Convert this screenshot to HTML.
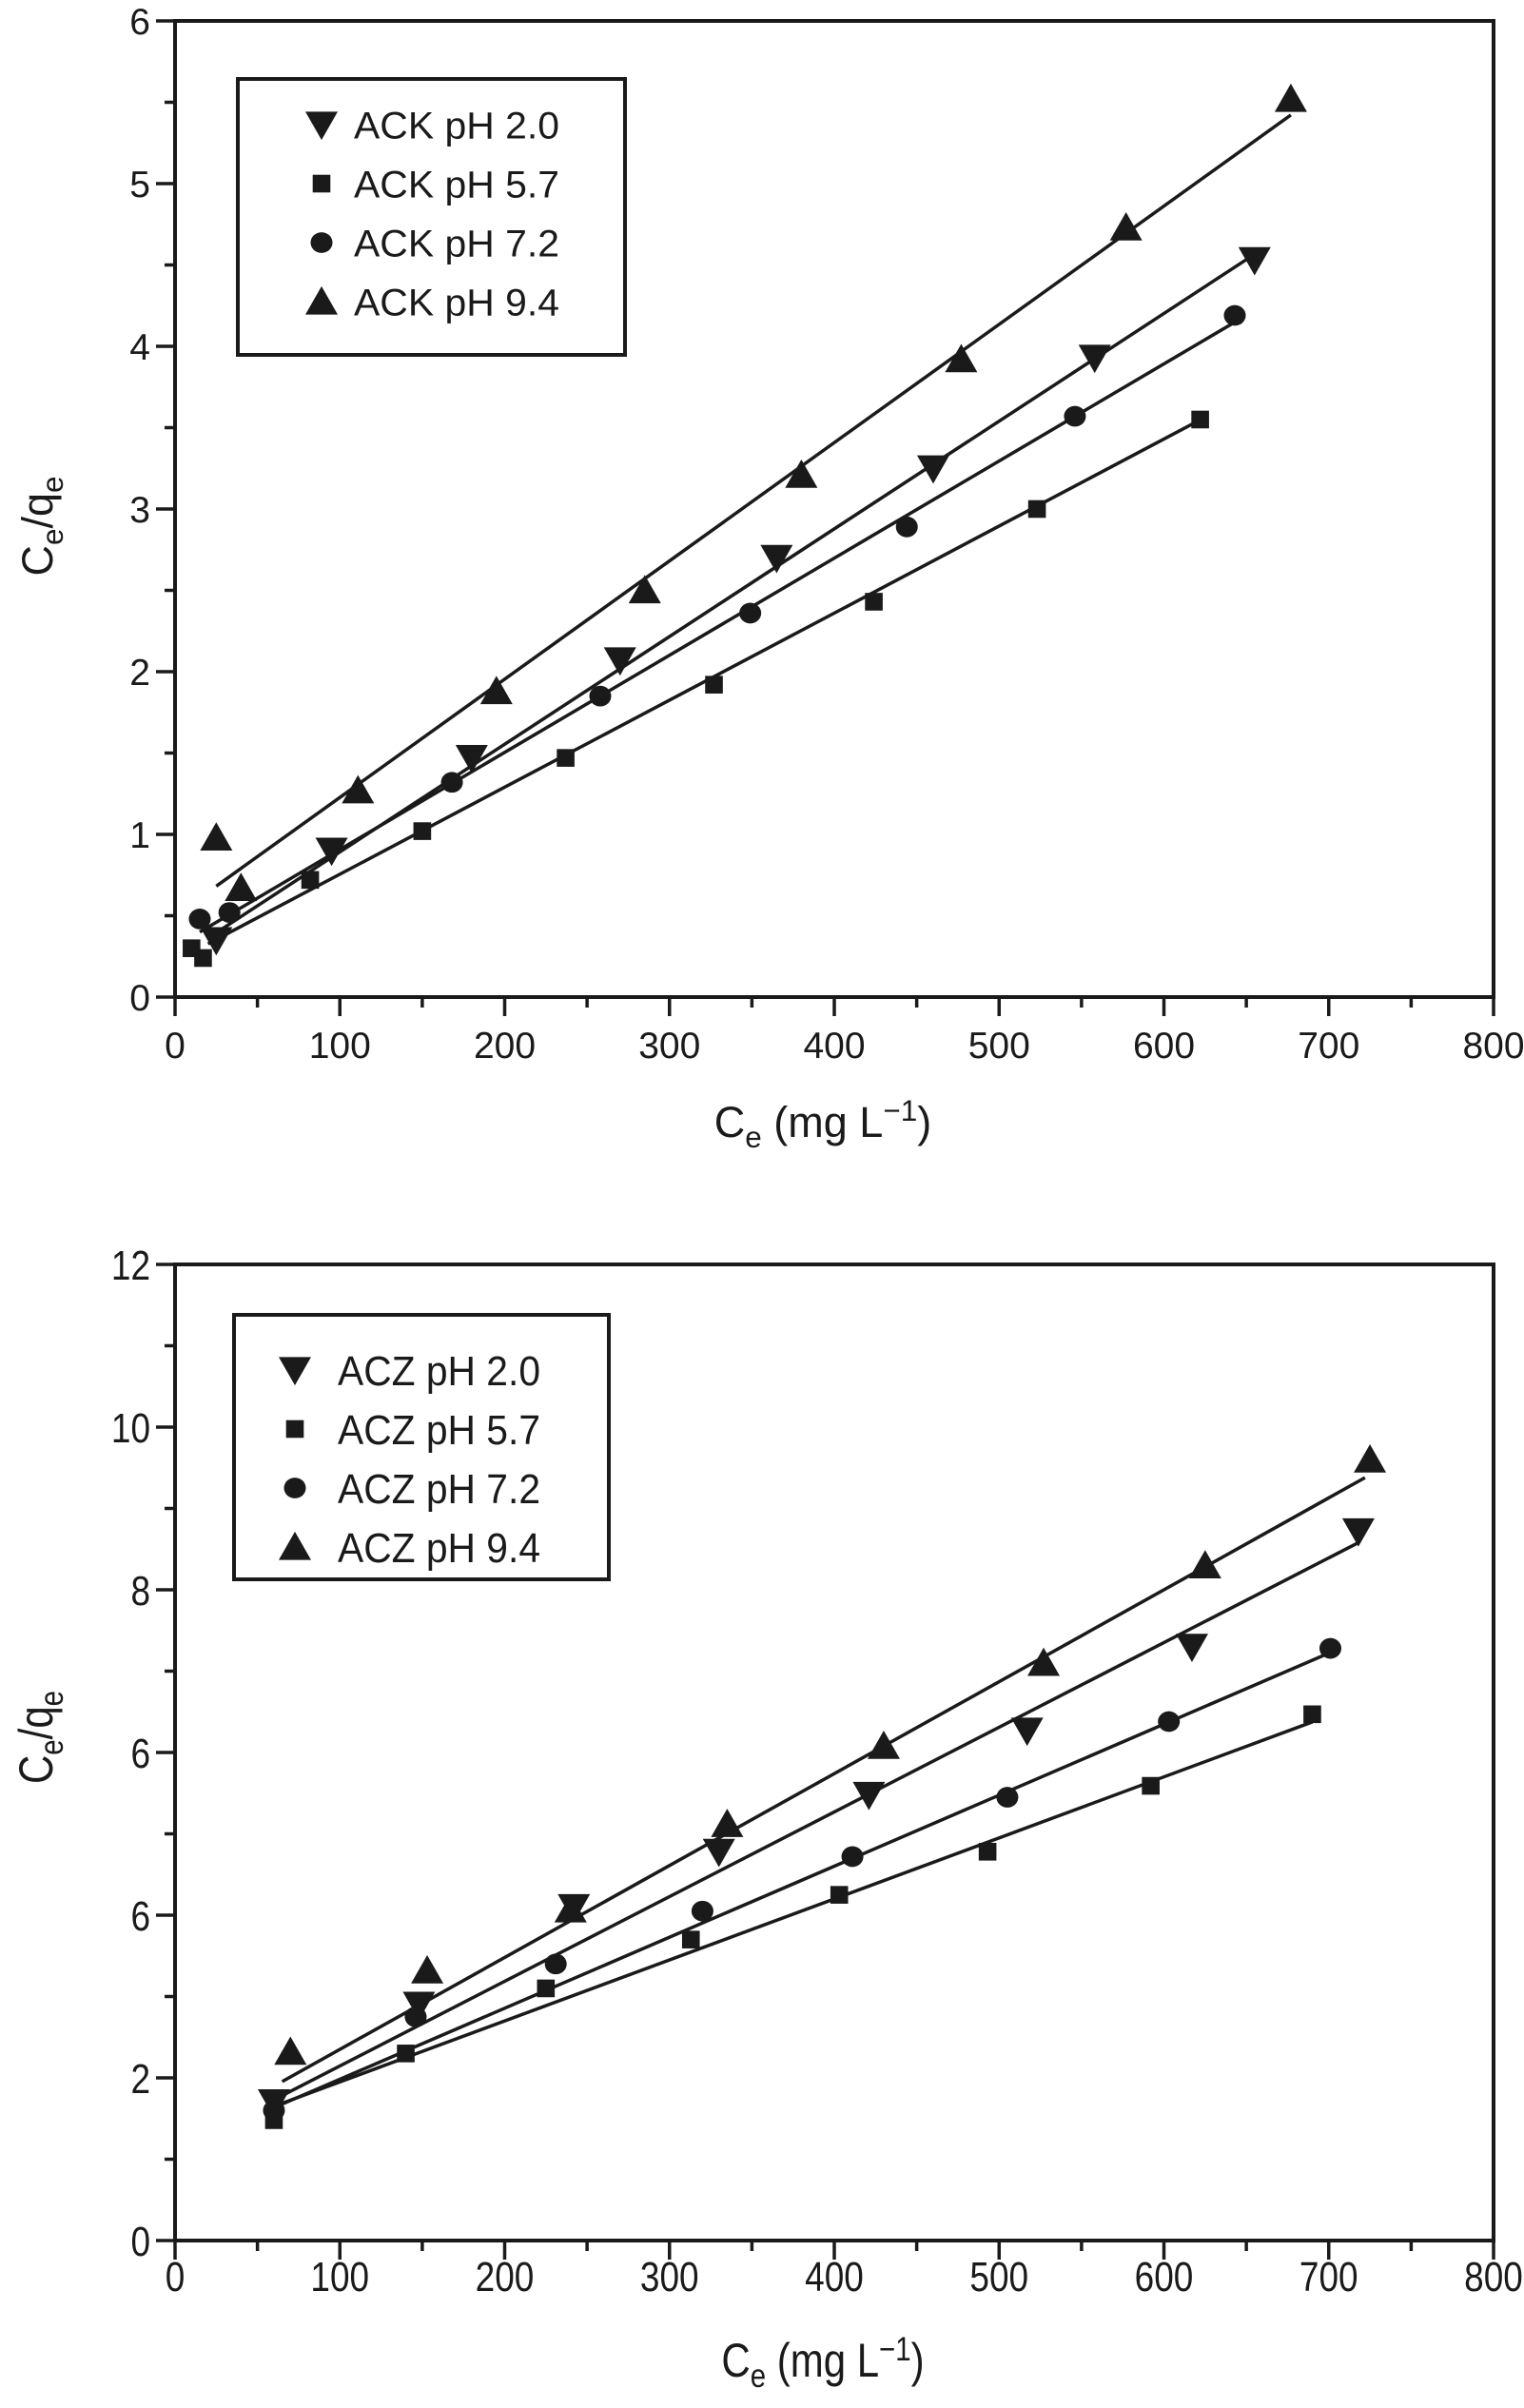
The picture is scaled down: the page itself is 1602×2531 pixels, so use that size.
<!DOCTYPE html>
<html><head><meta charset="utf-8">
<style>html,body{margin:0;padding:0;background:#fff;}svg{display:block;}</style>
</head><body>
<svg id="c" width="1602" height="2531" viewBox="0 0 1602 2531" xmlns="http://www.w3.org/2000/svg" font-family="'Liberation Sans', sans-serif" fill="#1a1a1a"></svg>
<script>
// ---------- data ----------
const xTicks = [0,100,200,300,400,500,600,700,800];
const topYTicks = [0,1,2,3,4,5,6];
const topYLabels = ["0","1","2","3","4","5","6"];
const botYTicks = [0,2,4,6,8,10,12];
const botYLabels = ["0","2","6","6","8","10","12"];

const topLegend = ["ACK pH 2.0","ACK pH 5.7","ACK pH 7.2","ACK pH 9.4"];
const botLegend = ["ACZ pH 2.0","ACZ pH 5.7","ACZ pH 7.2","ACZ pH 9.4"];
const markers = ["down","square","circle","up"];

const ackX20 = [25,95,180,270,365,460,558,655];
const ackY20 = [0.35,0.9,1.47,2.07,2.7,3.25,3.93,4.53];
const ackX57 = [10,17,82,150,237,327,424,523,622];
const ackY57 = [0.3,0.24,0.72,1.02,1.47,1.92,2.43,3.0,3.55];
const ackX72 = [15,33,168,258,349,444,546,643];
const ackY72 = [0.48,0.52,1.32,1.85,2.36,2.89,3.57,4.19];
const ackX94 = [25,40,111,195,285,380,477,577,677];
const ackY94 = [0.98,0.67,1.27,1.88,2.5,3.21,3.92,4.73,5.52];
const ackSlope = [0.00662,0.00535,0.00597,0.00727];
const ackIntercept = [0.23,0.22,0.31,0.5];
const ackFitStart = [25,20,15,25];
const ackFitEnd = [655,622,643,677];

const aczX20 = [60,148,242,330,421,517,617,718];
const aczY20 = [1.7,2.9,4.1,4.78,5.48,6.27,7.3,8.72];
const aczX57 = [60,140,225,313,403,493,592,690];
const aczY57 = [1.48,2.3,3.1,3.7,4.25,4.78,5.59,6.47];
const aczX72 = [60,146,231,320,411,505,603,701];
const aczY72 = [1.6,2.75,3.4,4.05,4.72,5.45,6.38,7.28];
const aczX94 = [70,153,240,335,430,527,625,725];
const aczY94 = [2.32,3.32,4.07,5.12,6.08,7.1,8.3,9.6];
const aczSlope = [0.01041,0.0075,0.00873,0.0113];
const aczIntercept = [1.105,1.2,1.11,1.22];
const aczFitStart = [62,62,62,65];
const aczFitEnd = [718,690,700,722];

// ---------- helpers ----------
const svg = document.getElementById('c');
const NS = 'http://www.w3.org/2000/svg';
function mk(tag, attrs, parent){const e=document.createElementNS(NS,tag);for(const k in attrs)e.setAttribute(k,attrs[k]);(parent||svg).appendChild(e);return e;}

function marker(g, type, cx, cy, s){
  let e;
  if(type==='down') e=mk('polygon',{points:`${cx-s},${cy-s*0.8} ${cx+s},${cy-s*0.8} ${cx},${cy+s*0.95}`},g);
  else if(type==='up') e=mk('polygon',{points:`${cx-s},${cy+s*0.8} ${cx+s},${cy+s*0.8} ${cx},${cy-s*0.95}`},g);
  else if(type==='square') e=mk('rect',{x:cx-s*0.62,y:cy-s*0.62,width:s*1.24,height:s*1.24},g);
  else e=mk('ellipse',{cx:cx,cy:cy,rx:s*0.72,ry:s*0.68},g);
  return e;
}

function chart(o){
  const root = mk('g',{});
  
  
  const L=184,R=1570,T=o.top,B=o.bottom;
  const sx = v => L + v/800*(R-L);
  const sy = v => B - v/o.ymax*(B-T);
  const sq = o.squeeze;
  function txt(str,x,y,size,anchor,name,parent){
    const g = mk('g',{transform:`translate(${x},${y}) scale(${sq},1)`},parent||root);
    const t = mk('text',{x:0,y:0,'font-size':size,'text-anchor':anchor},g);
    t.textContent=str;
    
    
    return t;
  }
  const frame = mk('rect',{x:L,y:T,width:R-L,height:B-T,fill:'none',stroke:'#1a1a1a','stroke-width':4},root);
  
  
  for(let i=0;i<=16;i++){
    const v=i*50, x=sx(v), len = i%2===0?20:11;
    const t = mk('line',{x1:x,y1:B,x2:x,y2:B+len,stroke:'#1a1a1a','stroke-width':3.5},root);
    
    
  }
  xTicks.forEach(v=>txt(String(v),sx(v),o.xLabelY,o.tickSize,'middle','x-tick-label'));
  const step = o.yTicks[1]-o.yTicks[0];
  for(let v=0; v<=o.ymax+1e-9; v+=step/2){
    const major = Math.abs(v/step - Math.round(v/step))<1e-6;
    const y=sy(v);
    const t = mk('line',{x1:L,y1:y,x2:L-(major?20:11),y2:y,stroke:'#1a1a1a','stroke-width':3.5},root);
    
    
  }
  o.yTicks.forEach((v,i)=>txt(o.yLabels[i],158,sy(v)+o.tickSize*0.36,o.tickSize,'end','y-tick-label'));
  const xtg = mk('g',{transform:`translate(${o.xTitleX},${o.xTitleY}) scale(${sq},1)`},root);
  const xt = mk('text',{x:0,y:0,'font-size':o.titleSize,'text-anchor':'middle'},xtg);
  xt.innerHTML = `C<tspan dy="11" font-size="${o.titleSize*0.7}">e</tspan><tspan dy="-11"> (mg L</tspan><tspan dy="-17" font-size="${o.titleSize*0.7}">−1</tspan><tspan dy="17">)</tspan>`;
  
  
  const yt = mk('text',{x:0,y:0,'font-size':o.titleSize,'text-anchor':'middle',transform:`translate(${o.yTitleX},${o.yTitleY}) rotate(-90) scale(${sq},1)`},root);
  yt.innerHTML = `C<tspan dy="11" font-size="${o.titleSize*0.7}">e</tspan><tspan dy="-11">/q</tspan><tspan dy="11" font-size="${o.titleSize*0.7}">e</tspan>`;
  
  
  for(let s=0;s<4;s++){
    const g = mk('g',{},root);
    
    
    const fl = mk('line',{x1:sx(o.fs[s]),y1:sy(o.slope[s]*o.fs[s]+o.icpt[s]),x2:sx(o.fe[s]),y2:sy(o.slope[s]*o.fe[s]+o.icpt[s]),stroke:'#1a1a1a','stroke-width':3.5},g);
    
    
    o.xs[s].forEach((xv,i)=>{
      const m = marker(g, markers[s], sx(xv), sy(o.ys[s][i]), markers[s]==='square'?15:(markers[s]==='circle'?16:17));
      
      
    });
  }
  const lg = mk('g',{},root);
  
  
  const lb = mk('rect',{x:o.lg.x,y:o.lg.y,width:o.lg.w,height:o.lg.h,fill:'#fff',stroke:'#1a1a1a','stroke-width':4},lg);
  
  
  o.legend.forEach((lab,i)=>{
    const cy = o.lg.row0 + i*o.lg.dy;
    const m = marker(lg, markers[i], o.lg.mx, cy, markers[i]==='square'?15:(markers[i]==='circle'?16:17));
    
    
    const t = mk('text',{x:o.lg.tx,y:cy+o.lg.fs*0.36,'font-size':o.lg.fs,textLength:o.lg.tw,lengthAdjust:'spacingAndGlyphs'},lg);
    t.textContent=lab;
    
    
  });
}

chart({name:'chart-ack', top:22, bottom:1048, ymax:6, yTicks:topYTicks, yLabels:topYLabels, squeeze:1,
  tickSize:39, xLabelY:1112, titleSize:45, xTitleX:865, xTitleY:1195, yTitleX:55, yTitleY:553,
  legend:topLegend, xs:[ackX20,ackX57,ackX72,ackX94], ys:[ackY20,ackY57,ackY72,ackY94],
  slope:ackSlope, icpt:ackIntercept, fs:ackFitStart, fe:ackFitEnd,
  lg:{x:250,y:83,w:407,h:290,mx:338,tx:372,tw:216,fs:40,row0:131,dy:62}});

chart({name:'chart-acz', top:1329, bottom:2355, ymax:12, yTicks:botYTicks, yLabels:botYLabels, squeeze:0.84,
  tickSize:44, xLabelY:2408, titleSize:50, xTitleX:865, xTitleY:2498, yTitleX:55, yTitleY:1826,
  legend:botLegend, xs:[aczX20,aczX57,aczX72,aczX94], ys:[aczY20,aczY57,aczY72,aczY94],
  slope:aczSlope, icpt:aczIntercept, fs:aczFitStart, fe:aczFitEnd,
  lg:{x:246,y:1382,w:394,h:278,mx:310,tx:355,tw:213,fs:44,row0:1440,dy:62}});
</script>
</body></html>
